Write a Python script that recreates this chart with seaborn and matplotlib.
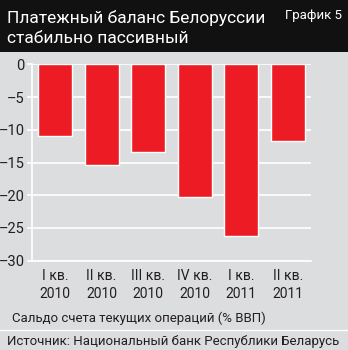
import matplotlib
matplotlib.use("Agg")
import matplotlib.pyplot as plt
import seaborn as sns
import pandas as pd
from matplotlib.patches import Rectangle

categories = ["I кв.\n2010", "II кв.\n2010", "III кв.\n2010", "IV кв.\n2010", "I кв.\n2011", "II кв.\n2011"]
values = [-11.0, -15.4, -13.4, -20.3, -26.2, -11.7]
yticks = [0, -5, -10, -15, -20, -25, -30]
ytick_labels = ["0", "–5", "–10", "–15", "–20", "–25", "–30"]

title = "Платежный баланс Белоруссии\nстабильно пассивный"
chart_no = "График 5"
xlabel = "Сальдо счета текущих операций (% ВВП)"
source = "Источник: Национальный банк Республики Беларусь"

sns.set_theme(style="white")
fams = ["Roboto", "DejaVu Sans"]
plt.rcParams["font.family"] = fams

bg = "#dcdddf"
red = "#ed1c24"
txt = "#231f20"

fig = plt.figure(figsize=(3.48, 3.5), dpi=100)
fig.patch.set_facecolor(bg)
fig.patches.append(Rectangle((0, 1 - 52 / 350), 1, 52 / 350, transform=fig.transFigure,
                             facecolor="#111111", edgecolor="none", zorder=0))
fig.lines.append(plt.Line2D([0, 1], [1 - 330 / 350] * 2, transform=fig.transFigure, color="white", lw=1))

ax = fig.add_axes([31.7 / 348, 1 - 260.7 / 350, (311 - 31.7) / 348, (260.7 - 64.3) / 350])
ax.set_facecolor(bg)

df = pd.DataFrame({"cat": categories, "val": values})
sns.barplot(data=df, x="cat", y="val", color=red, saturation=1, width=0.73, ax=ax, zorder=3)

ax.set_ylim(-30, 0)
ax.set_xlim(-0.5, 5.5)
ax.set_yticks(yticks)
ax.set_yticklabels(ytick_labels, fontsize=10.5, color=txt)
ax.yaxis.grid(True, color="white", lw=1.2, zorder=1)
ax.set_axisbelow(True)
ax.set_xlabel("")
ax.set_ylabel("")
ax.set_xticks(range(len(categories)))
ax.set_xticklabels(categories, fontsize=10, color=txt, linespacing=1.35)
ax.tick_params(axis="x", length=0, pad=6)
ax.set_xticks([0.5, 1.5, 2.5, 3.5, 4.5], minor=True)
ax.tick_params(axis="x", which="minor", direction="in", length=4, color="white", width=1.2)
ax.tick_params(axis="y", length=3.5, color="white", width=1.2, pad=1.5, direction="out", left=True)
for s in ["top", "right"]:
    ax.spines[s].set_visible(False)
ax.spines["left"].set_color("white")
ax.spines["left"].set_linewidth(1.2)
ax.spines["bottom"].set_color("white")
ax.spines["bottom"].set_linewidth(1.2)

fig.text(7 / 348, 1 - 28 / 350, title, color="white", fontsize=12.5, va="center", ha="left", linespacing=1.35)
fig.text(342 / 348, 1 - 16 / 350, chart_no, color="white", fontsize=9.5, va="center", ha="right")
fig.text(12 / 348, 1 - 318 / 350, xlabel, color=txt, fontsize=9.5, va="center", ha="left")
fig.text(7 / 348, 1 - 341 / 350, source, color=txt, fontsize=9.5, va="center", ha="left")

fig.savefig("out.png", dpi=100, facecolor=bg)
